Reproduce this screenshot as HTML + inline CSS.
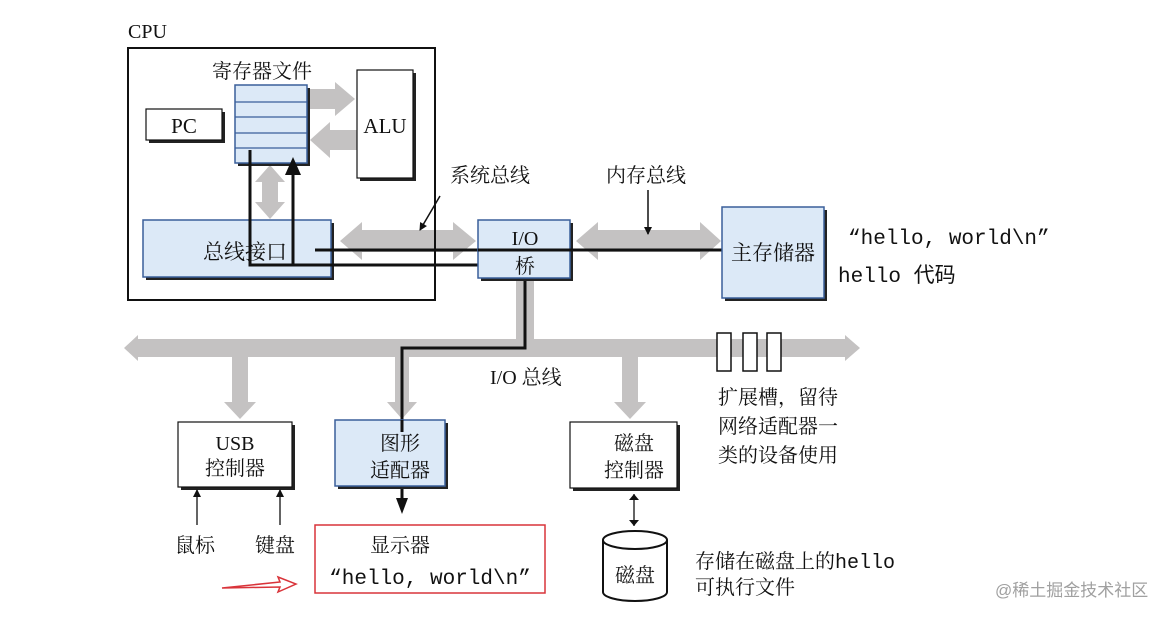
<!DOCTYPE html>
<html><head><meta charset="utf-8"><style>
html,body{margin:0;padding:0;background:#fff;}
svg{display:block;}
text{font-family:"Liberation Serif","Noto Serif CJK SC","Noto Sans CJK SC",serif;fill:#111;}
.m{font-family:"Liberation Mono","Noto Sans CJK SC",monospace;}
</style></head><body>
<svg width="1174" height="618" viewBox="0 0 1174 618" xmlns="http://www.w3.org/2000/svg">
<defs>
<marker id="ah" markerWidth="8" markerHeight="8" refX="7" refY="4" orient="auto" markerUnits="userSpaceOnUse"><path d="M0,0 L8,4 L0,8 z" fill="#111"/></marker>
<marker id="ahs" markerWidth="6" markerHeight="10" refX="6" refY="5" orient="auto-start-reverse" markerUnits="userSpaceOnUse"><path d="M0,0 L6,5 L0,10 z" fill="#111"/></marker>
</defs>
<g fill="#c4c2c2">
<path d="M308,89 L335,89 L335,82 L355,99 L335,116 L335,109 L308,109 z"/>
<path d="M357,130 L330,130 L330,122 L310,140 L330,158 L330,150 L357,150 z"/>
<path d="M262,182 L255,182 L270,165 L285,182 L278,182 L278,202 L285,202 L270,219 L255,202 L262,202 z"/>
<path d="M340,241 L362,222 L362,230 L453,230 L453,222 L476,241 L453,260 L453,252 L362,252 L362,260 z"/>
<path d="M576,241 L598,222 L598,230 L700,230 L700,222 L721,241 L700,260 L700,252 L598,252 L598,260 z"/>
<path d="M516,280 L534,280 L534,340 L516,340 z"/>
<path d="M124,348 L138,335 L138,339 L845,339 L845,335 L860,348 L845,361 L845,357 L138,357 L138,361 z"/>
<path d="M232,355 L248,355 L248,402 L256,402 L240,419 L224,402 L232,402 z"/>
<path d="M395,355 L409,355 L409,402 L417,402 L402,419 L387,402 L395,402 z"/>
<path d="M622,355 L638,355 L638,402 L646,402 L630,419 L614,402 L622,402 z"/>
</g>
<text x="128" y="38" font-size="20">CPU</text>
<rect x="128" y="48" width="307" height="252" fill="none" stroke="#111" stroke-width="2"/>
<text x="212" y="78" font-size="20">寄存器文件</text>
<rect x="238" y="88" width="72" height="78" fill="#222"/>
<rect x="235" y="85" width="72" height="78" fill="#dce9f7" stroke="#3a5f9a" stroke-width="1.5"/>
<g stroke="#3a5f9a" stroke-width="1.2"><line x1="235" y1="102" x2="307" y2="102"/><line x1="235" y1="117" x2="307" y2="117"/><line x1="235" y1="133" x2="307" y2="133"/><line x1="235" y1="148" x2="307" y2="148"/></g>
<rect x="149" y="112" width="76" height="31" fill="#222"/>
<rect x="146" y="109" width="76" height="31" fill="#fff" stroke="#111" stroke-width="1.2"/>
<text x="184" y="133" font-size="21" text-anchor="middle">PC</text>
<rect x="360" y="73" width="56" height="108" fill="#222"/>
<rect x="357" y="70" width="56" height="108" fill="#fff" stroke="#111" stroke-width="1.2"/>
<text x="385" y="133" font-size="21" text-anchor="middle">ALU</text>
<rect x="146" y="223" width="188" height="57" fill="#222"/>
<rect x="143" y="220" width="188" height="57" fill="#dce9f7" stroke="#3a5f9a" stroke-width="1.5"/>
<text x="245" y="259" font-size="21" text-anchor="middle">总线接口</text>
<g stroke="#111" stroke-width="3" fill="none">
<polyline points="250,150 250,265 510,265"/>
<line x1="293" y1="266" x2="293" y2="172"/>
<line x1="315" y1="250" x2="722" y2="250"/>
<polyline points="525,280 525,348 402,348 402,500"/>
</g>
<path d="M285,175 L293,157 L301,175 z" fill="#111"/>
<path d="M396,498 L402,514 L408,498 z" fill="#111"/>
<text x="450" y="182" font-size="20">系统总线</text>
<line x1="440" y1="196" x2="420" y2="230" stroke="#111" stroke-width="1.5" marker-end="url(#ah)"/>
<text x="606" y="182" font-size="20">内存总线</text>
<line x1="648" y1="190" x2="648" y2="234" stroke="#111" stroke-width="1.5" marker-end="url(#ah)"/>
<rect x="481" y="223" width="92" height="58" fill="#222"/>
<rect x="478" y="220" width="92" height="58" fill="#dce9f7" stroke="#3a5f9a" stroke-width="1.5"/>
<line x1="478" y1="250" x2="575" y2="250" stroke="#111" stroke-width="3"/>
<text x="525" y="245" font-size="20" text-anchor="middle">I/O</text>
<text x="525" y="273" font-size="20" text-anchor="middle">桥</text>
<rect x="725" y="210" width="102" height="91" fill="#222"/>
<rect x="722" y="207" width="102" height="91" fill="#dce9f7" stroke="#3a5f9a" stroke-width="1.5"/>
<text x="773" y="260" font-size="21" text-anchor="middle">主存储器</text>
<text x="848" y="244" font-size="21" class="m">“hello, world\n”</text>
<text x="838" y="282" font-size="21" class="m">hello 代码</text>
<g fill="#fff" stroke="#111" stroke-width="1.5">
<rect x="717" y="333" width="14" height="38"/><rect x="743" y="333" width="14" height="38"/><rect x="767" y="333" width="14" height="38"/>
</g>
<text x="490" y="384" font-size="20">I/O 总线</text>
<text x="718" y="404" font-size="20">扩展槽，留待</text>
<text x="718" y="433" font-size="20">网络适配器一</text>
<text x="718" y="462" font-size="20">类的设备使用</text>
<rect x="181" y="425" width="114" height="65" fill="#222"/>
<rect x="178" y="422" width="114" height="65" fill="#fff" stroke="#111" stroke-width="1.2"/>
<text x="235" y="450" font-size="20" text-anchor="middle">USB</text>
<text x="235" y="475" font-size="20" text-anchor="middle">控制器</text>
<rect x="338" y="423" width="110" height="66" fill="#222"/>
<rect x="335" y="420" width="110" height="66" fill="#dce9f7" stroke="#3a5f9a" stroke-width="1.5"/>
<line x1="402" y1="420" x2="402" y2="432" stroke="#111" stroke-width="3"/>
<text x="400" y="450" font-size="20" text-anchor="middle">图形</text>
<text x="400" y="477" font-size="20" text-anchor="middle">适配器</text>
<rect x="573" y="425" width="107" height="66" fill="#222"/>
<rect x="570" y="422" width="107" height="66" fill="#fff" stroke="#111" stroke-width="1.2"/>
<text x="634" y="450" font-size="20" text-anchor="middle">磁盘</text>
<text x="634" y="477" font-size="20" text-anchor="middle">控制器</text>
<line x1="197" y1="525" x2="197" y2="490" stroke="#111" stroke-width="1.3" marker-end="url(#ah)"/>
<line x1="280" y1="525" x2="280" y2="490" stroke="#111" stroke-width="1.3" marker-end="url(#ah)"/>
<text x="175" y="552" font-size="20">鼠标</text>
<text x="255" y="552" font-size="20">键盘</text>
<rect x="315" y="525" width="230" height="68" fill="none" stroke="#d9343a" stroke-width="1.5"/>
<text x="400" y="552" font-size="20" text-anchor="middle">显示器</text>
<text x="430" y="584" font-size="21" class="m" text-anchor="middle">“hello, world\n”</text>
<path d="M222,588 L280,582 L278,577 L296,584 L278,592 L280,587 z" fill="none" stroke="#d9343a" stroke-width="1.5"/>
<line x1="634" y1="494" x2="634" y2="526" stroke="#111" stroke-width="1.3" marker-start="url(#ahs)" marker-end="url(#ahs)"/>
<path d="M603,540 L603,592 A32,9 0 0 0 667,592 L667,540" fill="#fff" stroke="#111" stroke-width="2"/>
<ellipse cx="635" cy="540" rx="32" ry="9" fill="#fff" stroke="#111" stroke-width="2"/>
<text x="635" y="582" font-size="20" text-anchor="middle">磁盘</text>
<text x="695" y="568" font-size="20">存储在磁盘上的<tspan class="m">hello</tspan></text>
<text x="695" y="594" font-size="20">可执行文件</text>
<text x="995" y="596" font-size="17" style="fill:#a0a0a0;font-family:'Liberation Sans','Noto Sans CJK SC',sans-serif">@稀土掘金技术社区</text>
</svg>
</body></html>
